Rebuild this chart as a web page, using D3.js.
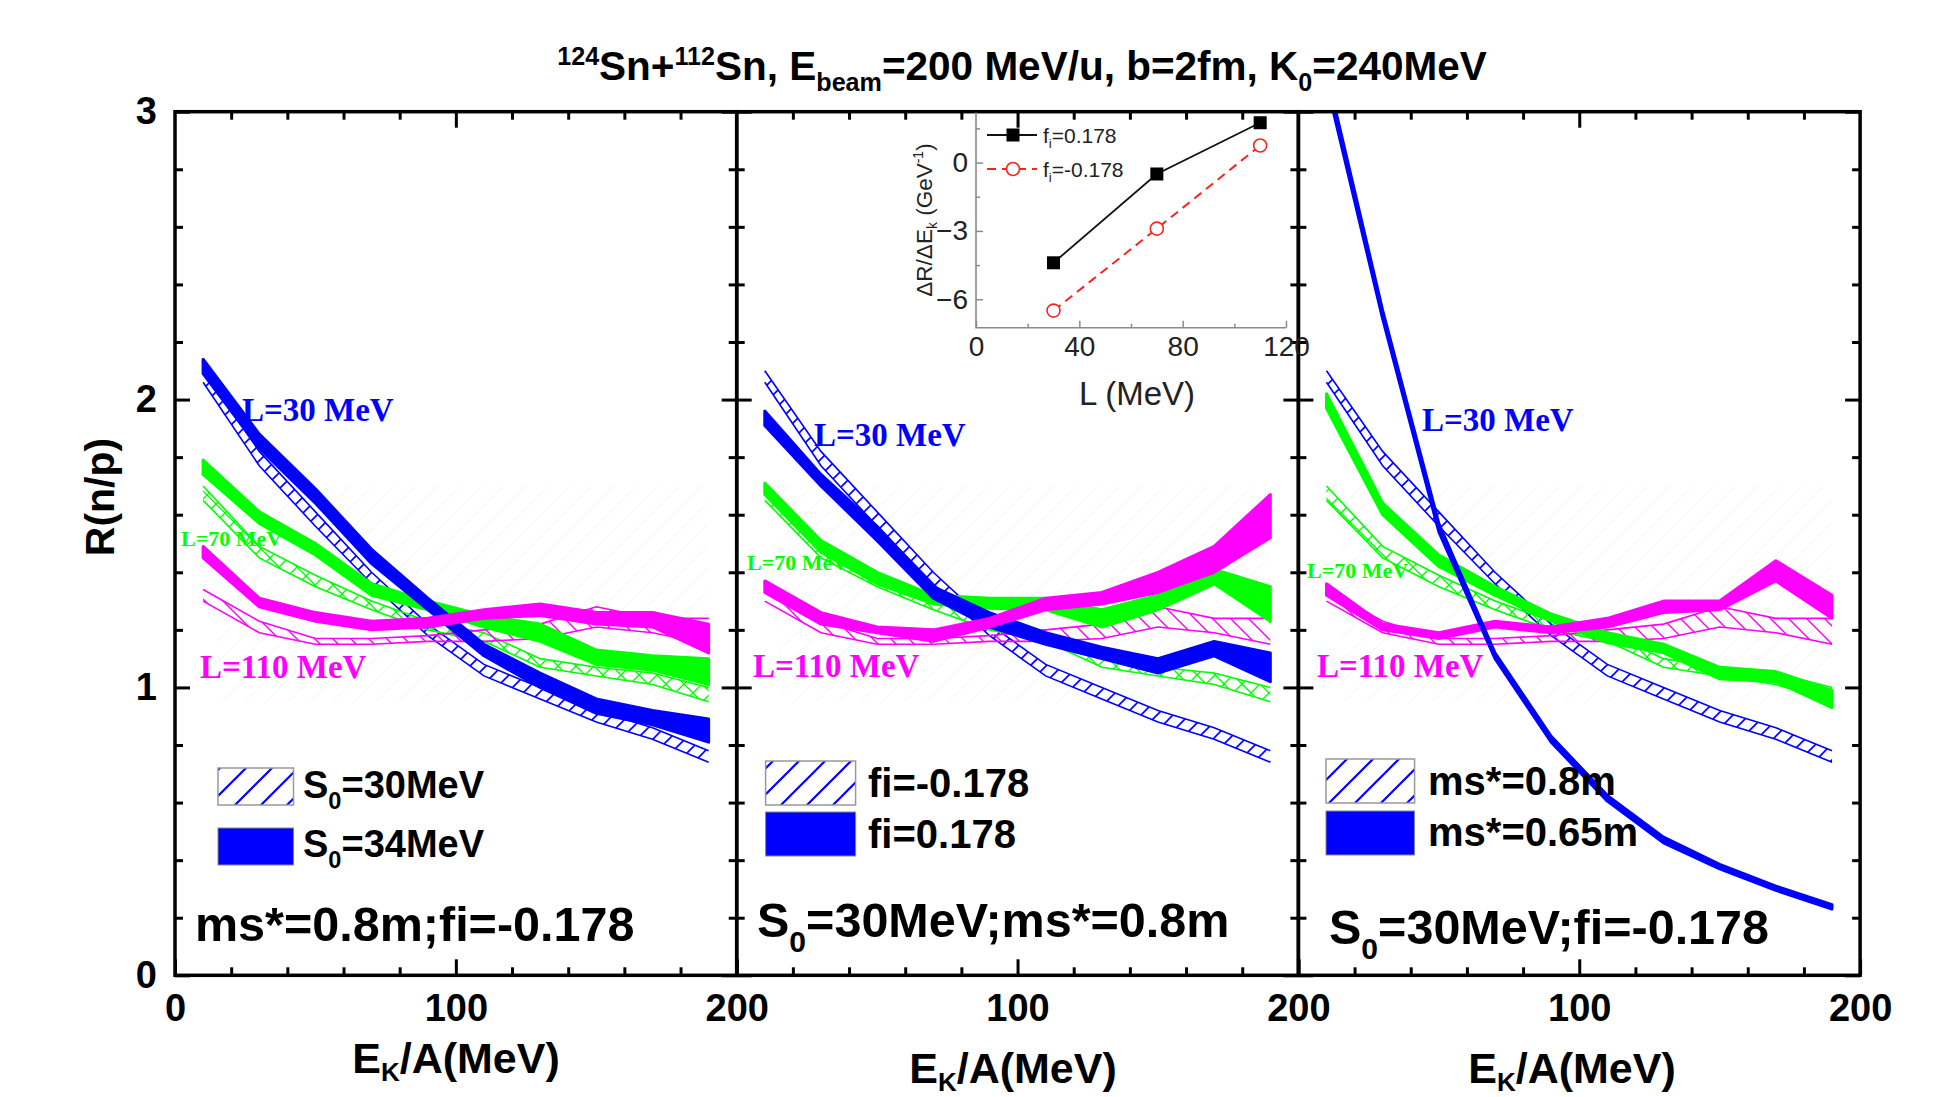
<!DOCTYPE html>
<html><head><meta charset="utf-8">
<script src="https://cdn.jsdelivr.net/npm/d3@7"></script>
<style>body{margin:0;background:#fff}svg{display:block}</style>
</head><body>
<svg id="c" width="1937" height="1097"></svg>
<script>
// ---------------- DATA ----------------
const energies = [10,30,50,70,90,110,130,150,170,190];

// hatched reference bands (S0=30MeV, ms*=0.8m, fi=-0.178), shown in all three panels
const refL30Lo  = [2.06,1.77,1.56,1.36,1.18,1.04,0.96,0.88,0.82,0.74];
const refL30Hi  = [2.10,1.82,1.61,1.40,1.22,1.08,1.00,0.92,0.86,0.78];
const refL70Lo  = [1.65,1.45,1.35,1.27,1.20,1.16,1.07,1.04,1.01,0.95];
const refL70Hi  = [1.70,1.49,1.39,1.30,1.23,1.19,1.10,1.07,1.05,1.00];
const refL110Lo = [1.30,1.19,1.15,1.15,1.16,1.16,1.17,1.21,1.19,1.15];
const refL110Hi = [1.34,1.23,1.17,1.17,1.18,1.20,1.22,1.28,1.24,1.24];

// panel 1: S0=34MeV
const s34L30Lo  = [2.09,1.83,1.64,1.43,1.27,1.11,1.00,0.91,0.87,0.81];
const s34L30Hi  = [2.14,1.88,1.69,1.48,1.31,1.15,1.05,0.96,0.92,0.89];
const s34L70Lo  = [1.74,1.57,1.46,1.32,1.27,1.21,1.16,1.08,1.06,1.01];
const s34L70Hi  = [1.79,1.61,1.50,1.36,1.30,1.25,1.22,1.13,1.11,1.10];
const s34L110Lo = [1.45,1.28,1.23,1.20,1.21,1.24,1.25,1.22,1.21,1.12];
const s34L110Hi = [1.49,1.31,1.26,1.23,1.24,1.27,1.29,1.26,1.26,1.22];

// panel 2: fi=0.178
const fiL30Lo  = [1.91,1.70,1.51,1.31,1.21,1.15,1.10,1.05,1.11,1.02];
const fiL30Hi  = [1.96,1.74,1.56,1.35,1.26,1.19,1.14,1.10,1.16,1.12];
const fiL70Lo  = [1.67,1.47,1.36,1.29,1.275,1.27,1.21,1.27,1.36,1.23];
const fiL70Hi  = [1.71,1.51,1.40,1.32,1.31,1.31,1.27,1.32,1.41,1.35];
const fiL110Lo = [1.33,1.22,1.19,1.16,1.21,1.27,1.29,1.33,1.40,1.52];
const fiL110Hi = [1.37,1.26,1.21,1.20,1.24,1.31,1.33,1.40,1.49,1.67];

// panel 3: ms*=0.65m
const msL30Lo  = [3.10,2.28,1.54,1.10,0.81,0.605,0.46,0.37,0.295,0.23];
const msL30Hi  = [3.14,2.31,1.57,1.12,0.83,0.625,0.48,0.385,0.31,0.245];
const msL70Lo  = [1.97,1.60,1.42,1.32,1.23,1.155,1.12,1.03,1.02,0.93];
const msL70Hi  = [2.02,1.64,1.46,1.35,1.255,1.19,1.15,1.07,1.055,0.99];
const msL110Lo = [1.32,1.20,1.17,1.21,1.19,1.21,1.26,1.27,1.37,1.24];
const msL110Hi = [1.36,1.22,1.19,1.23,1.21,1.24,1.30,1.30,1.44,1.32];

// inset
const insetL = [30,70,110];
const insetFiPos = [-4.4,-0.5,1.75];
const insetFiNeg = [-6.5,-2.9,0.75];

// ticks
const xMajorTicks = [0,100,200];
const xMinorTicks = [20,40,60,80,120,140,160,180];
const yMajorTicks = [0,1,2,3];
const yMinorTicks = [0.2,0.4,0.6,0.8,1.2,1.4,1.6,1.8,2.2,2.4,2.6,2.8];
const insetXTicks = [0,40,80,120];
const insetXMinor = [20,60,100];
const insetYTicks = [0,-3,-6];
const insetYMinor = [1.5,-1.5,-4.5];

const colors = {L30:"#0000ff", L70:"#00ff00", L110:"#ff00ff"};

// ---------------- LAYOUT ----------------
const svg = d3.select("#c");
const defs = svg.append("defs");
const SANS = "'Liberation Sans', Arial, sans-serif";
const SERIF = "'Liberation Serif', 'Times New Roman', serif";
const x0 = 175, pw = 561.7, yTop = 111.7, yBot = 975.3;
const y = d3.scaleLinear().domain([0,3]).range([yBot,yTop]);

function hatch(id, color, dirs, size, sw){
  const p = defs.append("pattern").attr("id",id).attr("patternUnits","userSpaceOnUse")
    .attr("width",size).attr("height",size);
  const s=size;
  if(dirs.includes("/")) p.append("path")
    .attr("d",`M0,${s} L${s},0 M${-s/2},${s/2} L${s/2},${-s/2} M${s/2},${s*1.5} L${s*1.5},${s/2}`)
    .attr("stroke",color).attr("stroke-width",sw).attr("fill","none");
  if(dirs.includes("\\")) p.append("path")
    .attr("d",`M0,0 L${s},${s} M${-s/2},${s/2} L${s/2},${s*1.5} M${s/2},${-s/2} L${s*1.5},${s/2}`)
    .attr("stroke",color).attr("stroke-width",sw).attr("fill","none");
}
hatch("hB", colors.L30, "/", 16, 1.6);
hatch("hG", colors.L70, "/\\", 18, 1.3);
hatch("hM", colors.L110, "\\", 18, 1.4);
hatch("hLeg", colors.L30, "/", 26, 2.2);
hatch("hFaint", "#f7f7f7", "/", 22, 1.2);

function rich(g, x, yy, parts, fs, attrs){
  const t = g.append("text").attr("x",x).attr("y",yy).attr("font-size",fs)
     .attr("font-family",SANS).attr("font-weight","bold");
  Object.entries(attrs||{}).forEach(([k,v])=>t.attr(k,v));
  parts.forEach(p=>{
    const s = t.append("tspan").text(p.t);
    if(p.sub){ s.attr("font-size",fs*0.62).attr("dy",fs*0.28); }
    else if(p.sup){ s.attr("font-size",fs*0.62).attr("dy",-fs*0.38); }
    if(p.back!==undefined) s.attr("dy",p.back);
  });
  return t;
}

// title
const TF = 40.5;
rich(svg, 1022, 80, [
  {t:"124",sup:true},{t:"Sn+",back:TF*0.38},{t:"112",sup:true},{t:"Sn, E",back:TF*0.38},
  {t:"beam",sub:true},{t:"=200 MeV/u, b=2fm, K",back:-TF*0.28},{t:"0",sub:true},{t:"=240MeV",back:-TF*0.28}
], TF, {"text-anchor":"middle"});

// y label
svg.append("text").attr("transform","translate(114,497) rotate(-90)")
  .attr("text-anchor","middle").attr("font-family",SANS).attr("font-weight","bold")
  .attr("font-size",41).text("R(n/p)");

const panels = [
  { solid:[[s34L70Lo,s34L70Hi,"L70"],[s34L30Lo,s34L30Hi,"L30"],[s34L110Lo,s34L110Hi,"L110"]],
    legend:[[["S",null],["0","sub"],["=30MeV",null]],[["S",null],["0","sub"],["=34MeV",null]]],
    leg:{x:218,w:75.5,y1:768,y2:828,h:37,tx:303,b1:798,b2:857,fs:38},
    note:[["ms*=0.8m;fi=-0.178",null]], noteX:195, noteY:941,
    lab:{L30:[242,421],L70:[181,546],L110:[200,678]}, xlabY:1073, xlabX:456 },
  { solid:[[fiL70Lo,fiL70Hi,"L70"],[fiL30Lo,fiL30Hi,"L30"],[fiL110Lo,fiL110Hi,"L110"]],
    legend:[[["fi=-0.178",null]],[["fi=0.178",null]]],
    leg:{x:765.6,w:90,y1:761,y2:812,h:44,tx:868,b1:797,b2:848,fs:40},
    note:[["S",null],["0","sub"],["=30MeV;ms*=0.8m",null]], noteX:757, noteY:937,
    lab:{L30:[814,446],L70:[747,570],L110:[753,677]}, xlabY:1083, xlabX:1013 },
  { solid:[[msL70Lo,msL70Hi,"L70"],[msL110Lo,msL110Hi,"L110"],[msL30Lo,msL30Hi,"L30"]],
    legend:[[["ms*=0.8m",null]],[["ms*=0.65m",null]]],
    leg:{x:1326,w:88.6,y1:759,y2:811,h:44,tx:1428,b1:795,b2:846,fs:40},
    note:[["S",null],["0","sub"],["=30MeV;fi=-0.178",null]], noteX:1329, noteY:944,
    lab:{L30:[1422,431],L70:[1307,578],L110:[1317,677]}, xlabY:1083, xlabX:1572 }
];
const refBands = [[refL30Lo,refL30Hi,"hB","L30"],[refL70Lo,refL70Hi,"hG","L70"],[refL110Lo,refL110Hi,"hM","L110"]];

function richParts(g,x,yy,arr,fs){
  const t = g.append("text").attr("x",x).attr("y",yy).attr("font-size",fs)
    .attr("font-family",SANS).attr("font-weight","bold");
  let shifted=false;
  arr.forEach(([txt,k])=>{
    const s=t.append("tspan").text(txt);
    if(k==="sub"){ s.attr("font-size",fs*0.62).attr("dy",fs*0.3); shifted=true; }
    else if(shifted){ s.attr("dy",-fs*0.3); shifted=false; }
  });
}

panels.forEach((P,i)=>{
  const left = x0 + i*pw, right = left+pw;
  const x = d3.scaleLinear().domain([0,200]).range([left,right]);
  const g = svg.append("g");
  const cid = "clip"+i;
  defs.append("clipPath").attr("id",cid).append("rect")
    .attr("x",left).attr("y",yTop).attr("width",pw).attr("height",yBot-yTop);
  const plot = g.append("g").attr("clip-path",`url(#${cid})`);

  // faint background hatch
  plot.append("rect").attr("x",x(15)).attr("y",y(1.7)).attr("width",x(190)-x(15))
    .attr("height",y(0.95)-y(1.7)).attr("fill","url(#hFaint)");

  const area = (lo,hi)=>d3.area().x((d,j)=>x(energies[j])).y0((d,j)=>y(lo[j])).y1((d,j)=>y(hi[j]))(energies);
  const outline = (arr)=>d3.line().x((d,j)=>x(energies[j])).y((d,j)=>y(arr[j]))(energies);

  refBands.forEach(([lo,hi,pat,c])=>{
    plot.append("path").attr("d",area(lo,hi)).attr("fill",`url(#${pat})`);
    plot.append("path").attr("d",outline(lo)).attr("fill","none").attr("stroke",colors[c]).attr("stroke-width",1.6);
    plot.append("path").attr("d",outline(hi)).attr("fill","none").attr("stroke",colors[c]).attr("stroke-width",1.6);
  });
  P.solid.forEach(([lo,hi,c])=>{
    plot.append("path").attr("d",area(lo,hi)).attr("fill",colors[c])
      .attr("stroke",colors[c]).attr("stroke-width",3).attr("stroke-linejoin","round");
  });

  // L labels
  const labFs = {L30:33, L70:22, L110:33};
  const labTx = {L30:"L=30 MeV", L70:"L=70 MeV", L110:"L=110 MeV"};
  Object.entries(P.lab).forEach(([k,[lx,ly]])=>{
    g.append("text").attr("x",lx).attr("y",ly).attr("font-family",SERIF).attr("font-weight","bold")
      .attr("font-size",labFs[k]).attr("fill",colors[k]).text(labTx[k]);
  });

  // legend
  const L = P.leg;
  g.append("rect").attr("x",L.x).attr("y",L.y1).attr("width",L.w).attr("height",L.h)
    .attr("fill","url(#hLeg)").attr("stroke","#999").attr("stroke-width",1.5);
  g.append("rect").attr("x",L.x).attr("y",L.y2).attr("width",L.w).attr("height",L.h)
    .attr("fill",colors.L30).attr("stroke","#888").attr("stroke-width",1);
  richParts(g, L.tx, L.b1, P.legend[0], L.fs);
  richParts(g, L.tx, L.b2, P.legend[1], L.fs);

  // note
  richParts(g, P.noteX, P.noteY, P.note, 48.5);

  // axes: frame
  g.append("rect").attr("x",left).attr("y",yTop).attr("width",pw).attr("height",yBot-yTop)
    .attr("fill","none").attr("stroke","#000").attr("stroke-width",3.5);

  const axB = g.append("g").attr("transform",`translate(0,${yBot})`);
  axB.call(d3.axisBottom(x).tickValues(xMinorTicks).tickSize(-8).tickFormat(""));
  const majB = g.append("g").attr("transform",`translate(0,${yBot})`);
  majB.call(d3.axisBottom(x).tickValues(xMajorTicks).tickSize(-16).tickPadding(19)
    .tickFormat(d=> (i>0 && d===0) ? "" : d));
  const axT = g.append("g").attr("transform",`translate(0,${yTop})`);
  axT.call(d3.axisTop(x).tickValues(xMinorTicks).tickSize(-8).tickFormat(""));
  axT.append("g").call(d3.axisTop(x).tickValues([100]).tickSize(-16).tickFormat(""));
  const axL = g.append("g").attr("transform",`translate(${left},0)`);
  axL.call(d3.axisLeft(y).tickValues(yMinorTicks).tickSize(-8).tickFormat(""));
  axL.append("g").call(d3.axisLeft(y).tickValues(yMajorTicks).tickSize(-15).tickPadding(18)
    .tickFormat(d=> i===0 ? d : ""));
  const axR = g.append("g").attr("transform",`translate(${right},0)`);
  axR.call(d3.axisRight(y).tickValues(yMinorTicks).tickSize(-8).tickFormat(""));
  axR.append("g").call(d3.axisRight(y).tickValues(yMajorTicks).tickSize(-15).tickFormat(""));
  g.selectAll(".domain").remove();
  g.selectAll(".tick line").attr("stroke","#000").attr("stroke-width",3);
  g.selectAll(".tick text").attr("font-family",SANS).attr("font-weight","bold")
    .attr("font-size",38).attr("fill","#000");

  // x label
  const xl = g.append("text").attr("x",P.xlabX).attr("y",P.xlabY).attr("text-anchor","middle")
    .attr("font-family",SANS).attr("font-weight","bold").attr("font-size",43);
  xl.append("tspan").text("E");
  xl.append("tspan").text("K").attr("font-size",26).attr("dy",8);
  xl.append("tspan").text("/A(MeV)").attr("dy",-8);
});

// ---------------- INSET ----------------
const xi = d3.scaleLinear().domain([0,120]).range([976,1286]);
const yi = d3.scaleLinear().domain([-7.25,2.2]).range([327.7,112.5]);
const ig = svg.append("g");
ig.append("path").attr("d",`M${xi(0)},${yi(2.2)} L${xi(0)},${yi(-7.25)} L${xi(120)},${yi(-7.25)}`)
  .attr("fill","none").attr("stroke","#8a8a8a").attr("stroke-width",1.6);
const ixa = ig.append("g").attr("transform",`translate(0,${yi(-7.25)})`);
ixa.call(d3.axisBottom(xi).tickValues(insetXTicks).tickSize(-7).tickPadding(8));
ixa.append("g").call(d3.axisBottom(xi).tickValues(insetXMinor).tickSize(-4).tickFormat(""));
const iya = ig.append("g").attr("transform",`translate(${xi(0)},0)`);
iya.call(d3.axisLeft(yi).tickValues(insetYTicks).tickSize(-7).tickPadding(8));
iya.append("g").call(d3.axisLeft(yi).tickValues(insetYMinor).tickSize(-4).tickFormat(""));
ig.selectAll(".domain").remove();
ig.selectAll(".tick line").attr("stroke","#8a8a8a").attr("stroke-width",1.5);
ig.selectAll(".tick text").attr("font-family",SANS).attr("font-size",28).attr("fill","#222");

const ptsPos = insetL.map((l,j)=>[xi(l),yi(insetFiPos[j])]);
const ptsNeg = insetL.map((l,j)=>[xi(l),yi(insetFiNeg[j])]);
ig.append("path").attr("d",d3.line()(ptsPos)).attr("fill","none").attr("stroke","#111").attr("stroke-width",1.8);
ig.append("path").attr("d",d3.line()(ptsNeg)).attr("fill","none").attr("stroke","#ff2020")
  .attr("stroke-width",2).attr("stroke-dasharray","9,6");
ig.selectAll(".sq").data(ptsPos).join("rect").attr("x",d=>d[0]-6.5).attr("y",d=>d[1]-6.5)
  .attr("width",13).attr("height",13).attr("fill","#000");
ig.selectAll(".ci").data(ptsNeg).join("circle").attr("cx",d=>d[0]).attr("cy",d=>d[1]).attr("r",6.5)
  .attr("fill","#fff").attr("stroke","#ff2020").attr("stroke-width",1.6);

// inset legend
ig.append("line").attr("x1",987).attr("x2",1037).attr("y1",135).attr("y2",135).attr("stroke","#111").attr("stroke-width",1.8);
ig.append("rect").attr("x",1006.5).attr("y",128.5).attr("width",13).attr("height",13).attr("fill","#000");
ig.append("line").attr("x1",987).attr("x2",1037).attr("y1",169).attr("y2",169).attr("stroke","#ff2020")
  .attr("stroke-width",2).attr("stroke-dasharray","9,6");
ig.append("circle").attr("cx",1013).attr("cy",169).attr("r",6.5).attr("fill","#fff").attr("stroke","#ff2020").attr("stroke-width",1.6);
[["0.178",143],["-0.178",177]].forEach(([v,yy])=>{
  const t = ig.append("text").attr("x",1043).attr("y",yy).attr("font-family",SANS).attr("font-size",21).attr("fill","#222");
  t.append("tspan").text("f");
  t.append("tspan").text("i").attr("font-size",13).attr("dy",5);
  t.append("tspan").text("="+v).attr("dy",-5);
});
// inset labels
ig.append("text").attr("x",1137).attr("y",405).attr("text-anchor","middle").attr("font-family",SANS)
  .attr("font-size",33).attr("fill","#222").text("L (MeV)");
const iyl = ig.append("text").attr("transform","translate(932,220) rotate(-90)").attr("text-anchor","middle")
  .attr("font-family",SANS).attr("font-size",22.5).attr("fill","#222");
iyl.append("tspan").text("ΔR/ΔE");
iyl.append("tspan").text("k").attr("font-size",14).attr("dy",5);
iyl.append("tspan").text(" (GeV").attr("dy",-5);
iyl.append("tspan").text("-1").attr("font-size",14).attr("dy",-9);
iyl.append("tspan").text(")").attr("dy",9);
</script>
</body></html>
